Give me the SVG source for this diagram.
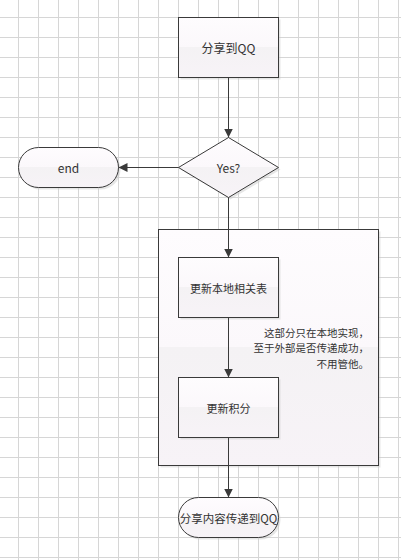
<svg xmlns="http://www.w3.org/2000/svg" width="401" height="560" viewBox="0 0 401 560">
<style>
.grid{stroke:#d6d6d6;stroke-width:1;fill:none}
.shape{stroke:#3a3a3a;stroke-width:1;fill:url(#g)}
.shadow{fill:#c8c8c8;opacity:0.45}
.conn{stroke:#3a3a3a;stroke-width:1;fill:none;marker-end:url(#arr)}
.lbl{font-family:"Noto Sans CJK SC","Liberation Sans",sans-serif;font-size:12px;fill:#333;text-anchor:middle;dominant-baseline:central}
.note{font-family:"Noto Sans CJK SC","Liberation Sans",sans-serif;font-size:10.5px;fill:#333;text-anchor:end;dominant-baseline:central}
</style>
<defs>
<linearGradient id="g" x1="0" y1="0" x2="0" y2="1">
<stop offset="0" stop-color="#fefcfe"/>
<stop offset="0.5" stop-color="#fbf8fb"/>
<stop offset="0.5" stop-color="#f4f2f4"/>
<stop offset="1" stop-color="#f7f3f7"/>
</linearGradient>
<marker id="arr" viewBox="0 0 10 10" refX="10" refY="5" markerWidth="9" markerHeight="9" markerUnits="userSpaceOnUse" orient="auto">
<path d="M0,0 L10,5 L0,10 z" fill="#3a3a3a"/>
</marker>
</defs>
<rect width="401" height="560" fill="#ffffff"/>
<path class="grid" d="M18.5 0V560M38.5 0V560M58.5 0V560M78.5 0V560M98.5 0V560M118.5 0V560M138.5 0V560M158.5 0V560M178.5 0V560M198.5 0V560M218.5 0V560M238.5 0V560M258.5 0V560M278.5 0V560M298.5 0V560M318.5 0V560M338.5 0V560M358.5 0V560M378.5 0V560M398.5 0V560M0 17.5H401M0 37.5H401M0 57.5H401M0 77.5H401M0 97.5H401M0 117.5H401M0 137.5H401M0 157.5H401M0 177.5H401M0 197.5H401M0 217.5H401M0 237.5H401M0 257.5H401M0 277.5H401M0 297.5H401M0 317.5H401M0 337.5H401M0 357.5H401M0 377.5H401M0 397.5H401M0 417.5H401M0 437.5H401M0 457.5H401M0 477.5H401M0 497.5H401M0 517.5H401M0 537.5H401M0 557.5H401"/>

<g id="container">
<rect class="shadow" x="160.5" y="231.5" width="220" height="236"/>
<rect class="shape" x="158.5" y="229.5" width="220" height="236"/>
<text class="note" x="369" y="332">这部分只在本地实现，</text>
<text class="note" x="369" y="347.5">至于外部是否传递成功，</text>
<text class="note" x="369" y="363">不用管他。</text>
</g>

<g id="share">
<rect class="shadow" x="180.5" y="19.5" width="100" height="60"/>
<rect class="shape" x="178.5" y="17.5" width="100" height="60"/>
<text class="lbl" x="228.5" y="47.5">分享到QQ</text>
</g>

<g id="decision">
<path class="shadow" d="M230.5 139.5L280.5 169.5L230.5 199.5L180.5 169.5Z"/>
<path class="shape" d="M228.5 137.5L278.5 167.5L228.5 197.5L178.5 167.5Z"/>
<text class="lbl" x="228.5" y="167.5">Yes?</text>
</g>

<g id="end">
<rect class="shadow" x="20.5" y="149.5" width="100" height="40" rx="20"/>
<rect class="shape" x="18.5" y="147.5" width="100" height="40" rx="20"/>
<text class="lbl" x="68.5" y="167.5">end</text>
</g>

<g id="update-local">
<rect class="shadow" x="180.5" y="259.5" width="100" height="60"/>
<rect class="shape" x="178.5" y="257.5" width="100" height="60"/>
<text class="lbl" x="228.5" y="287.5" style="font-size:11px">更新本地相关表</text>
</g>

<g id="update-points">
<rect class="shadow" x="180.5" y="379.5" width="100" height="60"/>
<rect class="shape" x="178.5" y="377.5" width="100" height="60"/>
<text class="lbl" x="228.5" y="407.5" style="font-size:11px">更新积分</text>
</g>

<g id="done">
<rect class="shadow" x="180.5" y="499.5" width="100" height="40" rx="20"/>
<rect class="shape" x="178.5" y="497.5" width="100" height="40" rx="20"/>
<text class="lbl" x="228.5" y="517.5" style="font-size:11.5px">分享内容传递到QQ</text>
</g>

<g id="connectors">
<path class="conn" d="M228.5 77.5V137.5"/>
<path class="conn" d="M178.5 167.5H118.5"/>
<path class="conn" d="M228.5 197.5V257.5"/>
<path class="conn" d="M228.5 317.5V377.5"/>
<path class="conn" d="M228.5 437.5V497.5"/>
</g>
</svg>
